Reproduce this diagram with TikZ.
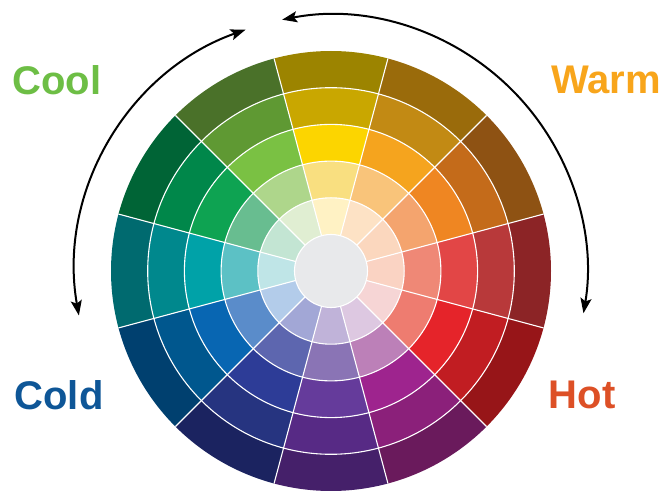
\documentclass[tikz,border=0pt]{standalone}
\usepackage{fontspec}
\setmainfont{Liberation Sans}
\usepackage{tikz}
\usetikzlibrary{arrows.meta}
\definecolor{coolgreen}{HTML}{6DBE45}
\definecolor{warmorange}{HTML}{F8A51B}
\definecolor{coldblue}{HTML}{0E5697}
\definecolor{hotred}{HTML}{DD5026}
\definecolor{hubgrey}{HTML}{E8E9EB}

\begin{document}
\begin{tikzpicture}[
  x=1pt,y=1pt,
  tagtext/.style={font=\fontsize{40}{48}\selectfont\bfseries,inner sep=0pt},
  gapline/.style={draw=white,line width=1.1pt},
  turnarrow/.style={{Stealth[length=15pt,width=11pt,inset=3pt]}-{Stealth[length=15pt,width=11pt,inset=3pt]},line width=2pt}
]
\useasboundingbox (0,0) rectangle (664,493);

% ── Rad: 12 Sektoren x 5 Ringe ───────────────────────────────────────────────
\coordinate (ctr) at (331,222);
\begin{scope}[shift={(ctr)}]
  \foreach \ang/\ca/\cb/\cc/\cd/\ce in {
      90/9C8400/C9A700/FCD500/F9DF80/FFF2C4,
      60/9A6B0B/C28A14/F5A41E/F9C47A/FDE2C5,
      30/8E5213/C46B1A/EF8622/F4A46E/FBD7BE,
       0/8C2426/B8393A/E24646/EF8876/FAD3C3,
     -30/971518/C11D22/E5242A/EE7C70/F6D5D5,
     -60/6A1A5C/8B207A/9E248E/BC80B8/DDC8E1,
     -90/45206A/572A85/653B9B/8A74B5/C0B3D9,
    -120/1B2360/263480/2D3C97/5D66AF/A2A7D6,
    -150/00406F/00578E/0866B2/5A8CCA/B3CCEA,
     180/006A6F/00888D/00A2A8/5CC1C5/BFE5E7,
     150/006436/00874A/0EA352/68BD90/C3E5D3,
     120/4A7129/5F9933/7AC143/AED68B/E0EED2}{
    \foreach \c [count=\i] in {\ca,\cb,\cc,\cd,\ce}{
      \definecolor{ringcol}{HTML}{\c}
      \pgfmathsetmacro{\rout}{220-(\i-1)*36.7}
      \pgfmathsetmacro{\rin}{\rout-36.7}
      \fill[ringcol] (\ang-15:\rin) arc[start angle=\ang-15,end angle=\ang+15,radius=\rin]
        -- (\ang+15:\rout) arc[start angle=\ang+15,end angle=\ang-15,radius=\rout] -- cycle;
    }
  }
  % Nabe
  \fill[hubgrey] (0,0) circle[radius=36.5];
  % weisse Trennlinien
  \foreach \r in {36.5,73.2,109.9,146.6,183.3}
    \draw[gapline] (0,0) circle[radius=\r];
  \foreach \a in {15,45,...,345}
    \draw[gapline] (\a:36.5) -- (\a:220);

  % ── Pfeile ─────────────────────────────────────────────────────────────────
  \coordinate (coldEnd) at (190:256);
  \coordinate (warmEnd) at (101:256);
  \draw[turnarrow] (coldEnd) arc[start angle=190,end angle=109.5,radius=256];
  \draw[turnarrow] (warmEnd) arc[start angle=101,end angle=-9.5,radius=256];
\end{scope}

% ── Beschriftungen ───────────────────────────────────────────────────────────
\node[tagtext,text=coolgreen]  (cool) at (57,413)  {Cool};
\node[tagtext,text=warmorange] (warm) at (606,413) {Warm};
\node[tagtext,text=coldblue]   (cold) at (59,98)   {Cold};
\node[tagtext,text=hotred]     (hot)  at (582,98)  {Hot};
\end{tikzpicture}
\end{document}
